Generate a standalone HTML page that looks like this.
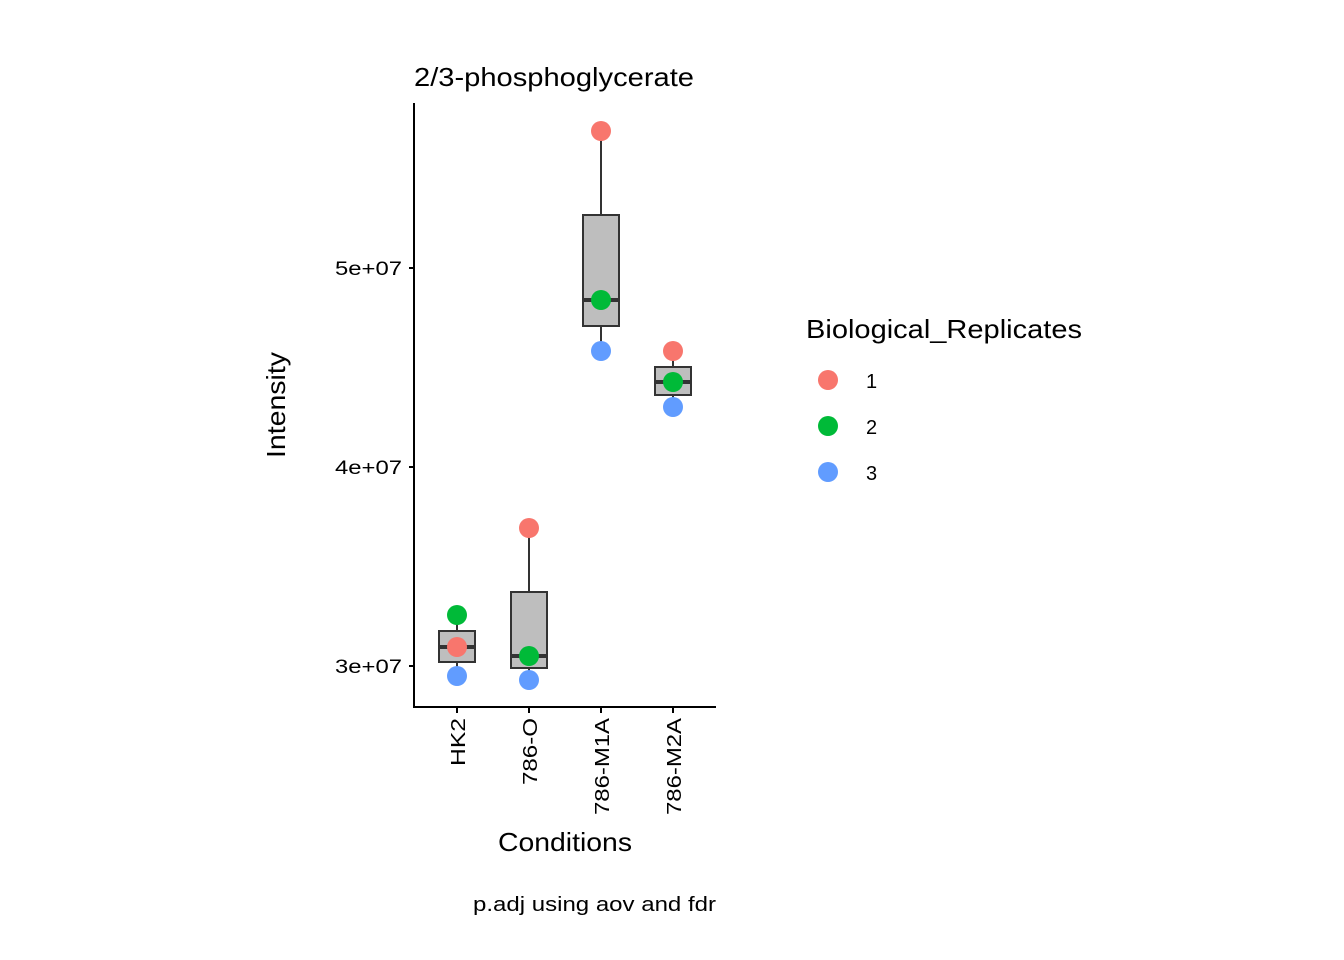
<!DOCTYPE html>
<html><head><style>body{margin:0;background:#fff}svg{display:block}</style></head><body>
<svg width="1344" height="960" viewBox="0 0 1344 960" xmlns="http://www.w3.org/2000/svg" font-family="Liberation Sans, sans-serif">
<rect width="1344" height="960" fill="#fff"/>
<text x="414" y="86" font-size="26" textLength="280" lengthAdjust="spacingAndGlyphs">2/3-phosphoglycerate</text>
<g stroke="#333" stroke-width="2" fill="#bebebe">
<line x1="457" y1="615" x2="457" y2="676"/>
<rect x="439" y="631" width="36" height="31"/>
<line x1="439" y1="647" x2="475" y2="647" stroke-width="4"/>
<line x1="529" y1="528" x2="529" y2="680"/>
<rect x="511" y="592" width="36" height="76"/>
<line x1="511" y1="656" x2="547" y2="656" stroke-width="4"/>
<line x1="601" y1="131" x2="601" y2="351"/>
<rect x="583" y="215" width="36" height="111"/>
<line x1="583" y1="300" x2="619" y2="300" stroke-width="4"/>
<line x1="673" y1="351" x2="673" y2="407"/>
<rect x="655" y="367" width="36" height="28"/>
<line x1="655" y1="382" x2="691" y2="382" stroke-width="4"/>
</g>
<g>
<circle cx="457" cy="615" r="10" fill="#00ba38"/><circle cx="457" cy="647" r="10" fill="#f8766d"/><circle cx="457" cy="676" r="10" fill="#619cff"/>
<circle cx="529" cy="528" r="10" fill="#f8766d"/><circle cx="529" cy="656" r="10" fill="#00ba38"/><circle cx="529" cy="680" r="10" fill="#619cff"/>
<circle cx="601" cy="131" r="10" fill="#f8766d"/><circle cx="601" cy="300" r="10" fill="#00ba38"/><circle cx="601" cy="351" r="10" fill="#619cff"/>
<circle cx="673" cy="351" r="10" fill="#f8766d"/><circle cx="673" cy="382" r="10" fill="#00ba38"/><circle cx="673" cy="407" r="10" fill="#619cff"/>
</g>
<g stroke="#000" stroke-width="2">
<line x1="414" y1="103" x2="414" y2="708"/>
<line x1="413" y1="707" x2="716" y2="707"/>
<line x1="409" y1="268" x2="414" y2="268"/><line x1="409" y1="467" x2="414" y2="467"/><line x1="409" y1="666" x2="414" y2="666"/>
<line x1="457" y1="707" x2="457" y2="713"/><line x1="529" y1="707" x2="529" y2="713"/><line x1="601" y1="707" x2="601" y2="713"/><line x1="673" y1="707" x2="673" y2="713"/>
</g>
<g font-size="19" text-anchor="end">
<text x="402" y="275" textLength="67" lengthAdjust="spacingAndGlyphs">5e+07</text><text x="402" y="474" textLength="67" lengthAdjust="spacingAndGlyphs">4e+07</text><text x="402" y="673" textLength="67" lengthAdjust="spacingAndGlyphs">3e+07</text>
</g>
<g font-size="20" text-anchor="end">
<text transform="translate(465,718) rotate(-90)" textLength="48" lengthAdjust="spacingAndGlyphs">HK2</text>
<text transform="translate(537,718) rotate(-90)" textLength="67" lengthAdjust="spacingAndGlyphs">786-O</text>
<text transform="translate(609,718) rotate(-90)" textLength="97" lengthAdjust="spacingAndGlyphs">786-M1A</text>
<text transform="translate(681,718) rotate(-90)" textLength="97" lengthAdjust="spacingAndGlyphs">786-M2A</text>
</g>
<text x="498" y="851" font-size="26" textLength="134" lengthAdjust="spacingAndGlyphs">Conditions</text>
<text transform="translate(285,458) rotate(-90)" font-size="26" textLength="106" lengthAdjust="spacingAndGlyphs">Intensity</text>
<text x="473" y="911" font-size="20" textLength="243" lengthAdjust="spacingAndGlyphs">p.adj using  aov and fdr</text>
<text x="806" y="338" font-size="26" textLength="276" lengthAdjust="spacingAndGlyphs">Biological_Replicates</text>
<circle cx="828" cy="380" r="10" fill="#f8766d"/><text x="866" y="388" font-size="20">1</text>
<circle cx="828" cy="426" r="10" fill="#00ba38"/><text x="866" y="434" font-size="20">2</text>
<circle cx="828" cy="472" r="10" fill="#619cff"/><text x="866" y="480" font-size="20">3</text>
</svg>
</body></html>
